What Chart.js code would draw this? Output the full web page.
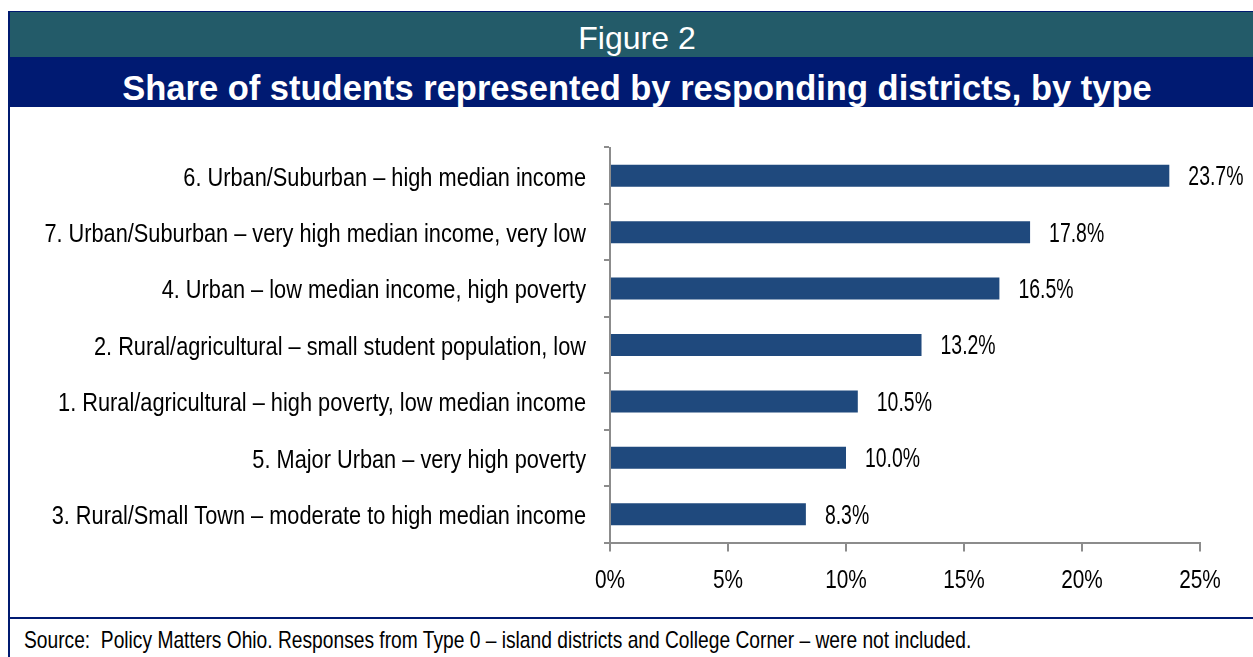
<!DOCTYPE html>
<html>
<head>
<meta charset="utf-8">
<script src="https://cdn.jsdelivr.net/npm/chart.js@4.4.1/dist/chart.umd.min.js"></script>
<style>
  html, body { margin: 0; padding: 0; background: #fff; overflow: hidden; }
  body { width: 1253px; height: 657px; position: relative; font-family: "Liberation Sans", Arial, sans-serif; }
  .frame { position: absolute; left: 8px; top: 11px; width: 1260px; height: 660px;
           border-left: 2px solid #001a70; border-top: 2px solid #001a70; box-sizing: border-box; }
  .band { position: absolute; left: 10px; width: 1254px; color: #fff; text-align: center; white-space: nowrap; }
  .fig { top: 12px; height: 45px; background: #235b69; font-size: 32px; line-height: 53px; overflow: hidden; }
  .ttl { top: 57px; height: 50px; background: #001a72; font-size: 34.5px; font-weight: bold; line-height: 63px; overflow: hidden; }
  .rule { position: absolute; left: 10px; top: 617px; width: 1254px; height: 2px; background: #001a72; }
  .src { position: absolute; left: 24px; top: 626px; font-size: 24px; line-height: 28px; color: #000; white-space: pre;
         transform: scaleX(0.8); transform-origin: 0 0; }
  #wrap { position: absolute; left: 10px; top: 107px; width: 1243px; height: 510px; }
</style>
</head>
<body>
<div class="frame"></div>
<div class="band fig">Figure 2</div>
<div class="band ttl">Share of students represented by responding districts, by type</div>
<div id="wrap"><canvas id="c" width="1243" height="510"></canvas></div>
<div class="rule"></div>
<div class="src">Source:  Policy Matters Ohio. Responses from Type 0 – island districts and College Corner – were not included.</div>
<script>
// District types, listed top to bottom
const districtTypes = [
  "6. Urban/Suburban – high median income",
  "7. Urban/Suburban – very high median income, very low",
  "4. Urban – low median income, high poverty",
  "2. Rural/agricultural – small student population, low",
  "1. Rural/agricultural – high poverty, low median income",
  "5. Major Urban – very high poverty",
  "3. Rural/Small Town – moderate to high median income"
];
// Share of students (%)
const studentShare = [23.7, 17.8, 16.5, 13.2, 10.5, 10.0, 8.3];
// Horizontal axis ticks (%)
const axisTicks = [0, 5, 10, 15, 20, 25];

const fontFamily = '"Liberation Sans", Arial, sans-serif';
const axisGray = '#8c8c8c';

// Scale variants whose tick labels are set in a condensed width
function condensedScale(Base, id, squeeze, dy) {
  class Condensed extends Base {
    drawLabels(chartArea) {
      if (!this.options.ticks.display) return;
      const ctx = this.ctx;
      for (const item of this.getLabelItems(chartArea)) {
        const o = item.options;
        ctx.save();
        ctx.font = item.font.string;
        ctx.translate(o.translation[0], o.translation[1] + dy);
        if (o.rotation) ctx.rotate(o.rotation);
        ctx.scale(squeeze, 1);
        ctx.fillStyle = o.color;
        ctx.textAlign = o.textAlign;
        ctx.textBaseline = o.textBaseline;
        const lines = Array.isArray(item.label) ? item.label : [item.label];
        let y = item.textOffset;
        for (const line of lines) {
          ctx.fillText(line, 0, y);
          y += item.font.lineHeight;
        }
        ctx.restore();
      }
    }
  }
  Condensed.id = id;
  return Condensed;
}
Chart.register(
  condensedScale(Chart.CategoryScale, 'condensedCategory', 0.87, 3),
  condensedScale(Chart.LinearScale, 'condensedLinear', 0.8, 0)
);

// Writes each bar's value just past its end
const valueLabels = {
  id: 'valueLabels',
  afterDatasetsDraw(chart) {
    const ctx = chart.ctx;
    const meta = chart.getDatasetMeta(0);
    meta.data.forEach((bar, i) => {
      ctx.save();
      ctx.font = '27px ' + fontFamily;
      ctx.fillStyle = '#000';
      ctx.textAlign = 'left';
      ctx.textBaseline = 'middle';
      ctx.translate(bar.x + 19, bar.y + 2);
      ctx.scale(0.72, 1);
      ctx.fillText(studentShare[i].toFixed(1) + '%', 0, 0);
      ctx.restore();
    });
  }
};

new Chart(document.getElementById('c'), {
  type: 'bar',
  data: {
    labels: districtTypes,
    datasets: [{
      data: studentShare,
      backgroundColor: '#1f497d',
      borderWidth: 0,
      barPercentage: 0.39,
      categoryPercentage: 1.0
    }]
  },
  options: {
    indexAxis: 'y',
    responsive: false,
    animation: false,
    events: [],
    layout: { padding: { top: 40.5, right: 53, left: 0, bottom: 0 } },
    plugins: { legend: { display: false }, tooltip: { enabled: false }, title: { display: false } },
    scales: {
      x: {
        type: 'condensedLinear',
        min: 0, max: 25,
        afterBuildTicks(scale) { scale.ticks = axisTicks.map(v => ({ value: v })); },
        afterFit(scale) { scale.height = 74.5; },
        border: { color: axisGray, width: 2 },
        grid: { drawOnChartArea: false, color: axisGray, lineWidth: 2, tickLength: 9 },
        ticks: {
          padding: 14,
          color: '#000',
          font: { family: fontFamily, size: 26 },
          callback: v => v + '%'
        }
      },
      y: {
        type: 'condensedCategory',
        afterFit(scale) { scale.width = 600; },
        border: { color: axisGray, width: 2 },
        grid: { drawOnChartArea: false, offset: true, color: axisGray, lineWidth: 2, tickLength: 6 },
        ticks: {
          padding: 18,
          color: '#000',
          font: { family: fontFamily, size: 25 },
          autoSkip: false
        }
      }
    }
  },
  plugins: [valueLabels]
});
</script>
</body>
</html>
